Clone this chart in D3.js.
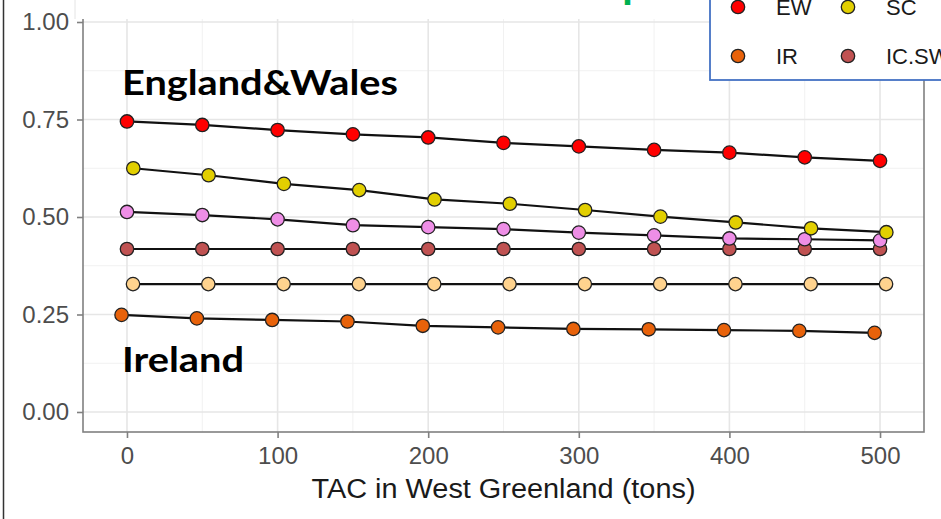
<!DOCTYPE html>
<html><head><meta charset="utf-8">
<script src="https://cdn.jsdelivr.net/npm/d3@7"></script>
<style>body{margin:0;background:#fff;overflow:hidden} svg{display:block}</style>
</head><body><svg id="c" width="941" height="519"></svg>
<script>
// ---------------- data ----------------
const tac = [0, 50, 100, 150, 200, 250, 300, 350, 400, 450, 500];
const seriesNames = ["EW", "SC", "FR", "IC.SW", "NI", "IR"];
const ewValues   = [0.745, 0.736, 0.723, 0.712, 0.704, 0.690, 0.681, 0.672, 0.665, 0.653, 0.644];
const scValues   = [0.625, 0.607, 0.585, 0.569, 0.545, 0.534, 0.518, 0.501, 0.486, 0.471, 0.461];
const frValues   = [0.513, 0.505, 0.494, 0.479, 0.474, 0.469, 0.460, 0.453, 0.445, 0.443, 0.440];
const icswValues = [0.418, 0.418, 0.418, 0.418, 0.418, 0.418, 0.418, 0.418, 0.418, 0.418, 0.418];
const niValues   = [0.328, 0.328, 0.328, 0.328, 0.328, 0.328, 0.328, 0.328, 0.328, 0.328, 0.328];
const irValues   = [0.249, 0.240, 0.236, 0.232, 0.221, 0.217, 0.213, 0.212, 0.210, 0.208, 0.203];
const xTicks = [0, 100, 200, 300, 400, 500];
const xMinor = [50, 150, 250, 350, 450];
const yTicks = [0, 0.25, 0.5, 0.75, 1];
const yMinor = [0.125, 0.375, 0.625, 0.875];
const legendRows = [["EW", "SC"], ["IR", "IC.SW"]];
const xTitle = "TAC in West Greenland (tons)";
const annotations = ["England&Wales", "Ireland"];

// ---------------- style ----------------
const colors = {"EW":"#ff0000","SC":"#e2cf00","FR":"#ee8ee6","IC.SW":"#c05252","NI":"#ffd38e","IR":"#e8620a"};
const dodge  = {"EW":0,"SC":4.2,"FR":0,"IC.SW":0,"NI":4,"IR":-3.6};
const valuesBy = {"EW":ewValues,"SC":scValues,"FR":frValues,"IC.SW":icswValues,"NI":niValues,"IR":irValues};

const svg = d3.select("#c");
const P = {l:83, r:924, t:2, b:432};
const x = d3.scaleLinear().domain([-29.2, 529.2]).range([P.l, P.r]);
const y = d3.scaleLinear().domain([-0.0513, 1.0513]).range([P.b, P.t]);

svg.append("rect").attr("width",941).attr("height",519).attr("fill","#fff");

// grid
const g = svg.append("g");
g.selectAll(".xmn").data(xMinor).join("line")
  .attr("x1",d=>x(d)).attr("x2",d=>x(d)).attr("y1",P.t).attr("y2",P.b)
  .attr("stroke","#f1f1f1").attr("stroke-width",1);
g.selectAll(".ymn").data(yMinor).join("line")
  .attr("y1",d=>y(d)).attr("y2",d=>y(d)).attr("x1",P.l).attr("x2",P.r)
  .attr("stroke","#f1f1f1").attr("stroke-width",1);
g.selectAll(".xmj").data(xTicks).join("line")
  .attr("x1",d=>x(d)).attr("x2",d=>x(d)).attr("y1",P.t).attr("y2",P.b)
  .attr("stroke","#e6e6e6").attr("stroke-width",1.6);
g.selectAll(".ymj").data(yTicks).join("line")
  .attr("y1",d=>y(d)).attr("y2",d=>y(d)).attr("x1",P.l).attr("x2",P.r)
  .attr("stroke","#e6e6e6").attr("stroke-width",1.6);

// panel border
svg.append("rect").attr("x",P.l).attr("y",P.t).attr("width",P.r-P.l).attr("height",P.b-P.t)
  .attr("fill","none").attr("stroke","#808080").attr("stroke-width",1.6);

// white box covering top strip
svg.append("rect").attr("x",75).attr("y",-2).attr("width",640).attr("height",21)
  .attr("fill","#fff");
svg.append("line").attr("x1",75).attr("x2",75).attr("y1",0).attr("y2",19)
  .attr("stroke","#e4e4e4").attr("stroke-width",1);

// outer left frame line
svg.append("line").attr("x1",3.5).attr("x2",3.5).attr("y1",0).attr("y2",519)
  .attr("stroke","#333").attr("stroke-width",1.5);

// axes
const axL = d3.axisLeft(y).tickValues(yTicks).tickFormat(d3.format(".2f")).tickSize(6).tickPadding(8);
const gL = svg.append("g").attr("transform",`translate(${P.l},0)`).call(axL);
const axB = d3.axisBottom(x).tickValues(xTicks).tickFormat(d3.format("d")).tickSize(6).tickPadding(9);
const gB = svg.append("g").attr("transform",`translate(0,${P.b})`).call(axB);
[gL,gB].forEach(a=>{
  a.select(".domain").remove();
  a.selectAll(".tick line").attr("stroke","#808080").attr("stroke-width",1.6);
  a.selectAll(".tick text").attr("fill","#4d4d4d")
    .style("font-family","'Liberation Sans', Arial, sans-serif").style("font-size","24px");
});

svg.append("text").attr("x",(x(0)+x(500))/2).attr("y",498).attr("text-anchor","middle")
  .style("font-family","'Liberation Sans', Arial, sans-serif").style("font-size","27px")
  .attr("textLength",384).attr("lengthAdjust","spacingAndGlyphs")
  .attr("fill","#1a1a1a").text(xTitle);

// series
const line = d3.line().x(d=>x(d.t)).y(d=>y(d.v));
const order = ["NI","IR","IC.SW","FR","SC","EW"];
order.forEach(name=>{
  const pts = tac.map((t,i)=>({t:t+dodge[name], v:valuesBy[name][i]}));
  svg.append("path").datum(pts).attr("d",line).attr("fill","none")
    .attr("stroke","#111").attr("stroke-width",2.2);
});
order.forEach(name=>{
  const pts = tac.map((t,i)=>({t:t+dodge[name], v:valuesBy[name][i]}));
  svg.append("g").selectAll("circle").data(pts).join("circle")
    .attr("cx",d=>x(d.t)).attr("cy",d=>y(d.v)).attr("r",6.7)
    .attr("fill",colors[name]).attr("stroke","#222").attr("stroke-width",1.3);
});

// annotations
svg.append("text").attr("x",122).attr("y",95).text(annotations[0])
  .style("font-family","Lato, 'Open Sans', sans-serif").style("font-weight","700").style("font-size","35px")
  .attr("textLength",276).attr("lengthAdjust","spacingAndGlyphs").attr("fill","#000");
svg.append("text").attr("x",122).attr("y",372).text(annotations[1])
  .style("font-family","Lato, 'Open Sans', sans-serif").style("font-weight","700").style("font-size","35px")
  .attr("textLength",122).attr("lengthAdjust","spacingAndGlyphs").attr("fill","#000");

// legend
const lg = svg.append("g");
lg.append("rect").attr("x",710).attr("y",-20).attr("width",240).attr("height",100)
  .attr("fill","#fff").attr("stroke","#4472c4").attr("stroke-width",1.8);
const colX = [738, 848], rowY = [7, 56];
legendRows.forEach((row,ri)=>row.forEach((name,ci)=>{
  lg.append("circle").attr("cx",colX[ci]).attr("cy",rowY[ri]).attr("r",6.7)
    .attr("fill",colors[name]).attr("stroke","#222").attr("stroke-width",1.3);
  lg.append("text").attr("x",colX[ci]+38).attr("y",rowY[ri]).attr("dy","0.36em").text(name)
    .style("font-family","'Liberation Sans', Arial, sans-serif").style("font-size","22px").attr("fill","#1a1a1a");
}));

// cropped title fragment (green)
svg.append("text").attr("x",622).attr("y",-4).text("p")
  .style("font-family","'Open Sans', sans-serif").style("font-weight","700").style("font-size","36px")
  .attr("fill","#00b050");
</script></body></html>
